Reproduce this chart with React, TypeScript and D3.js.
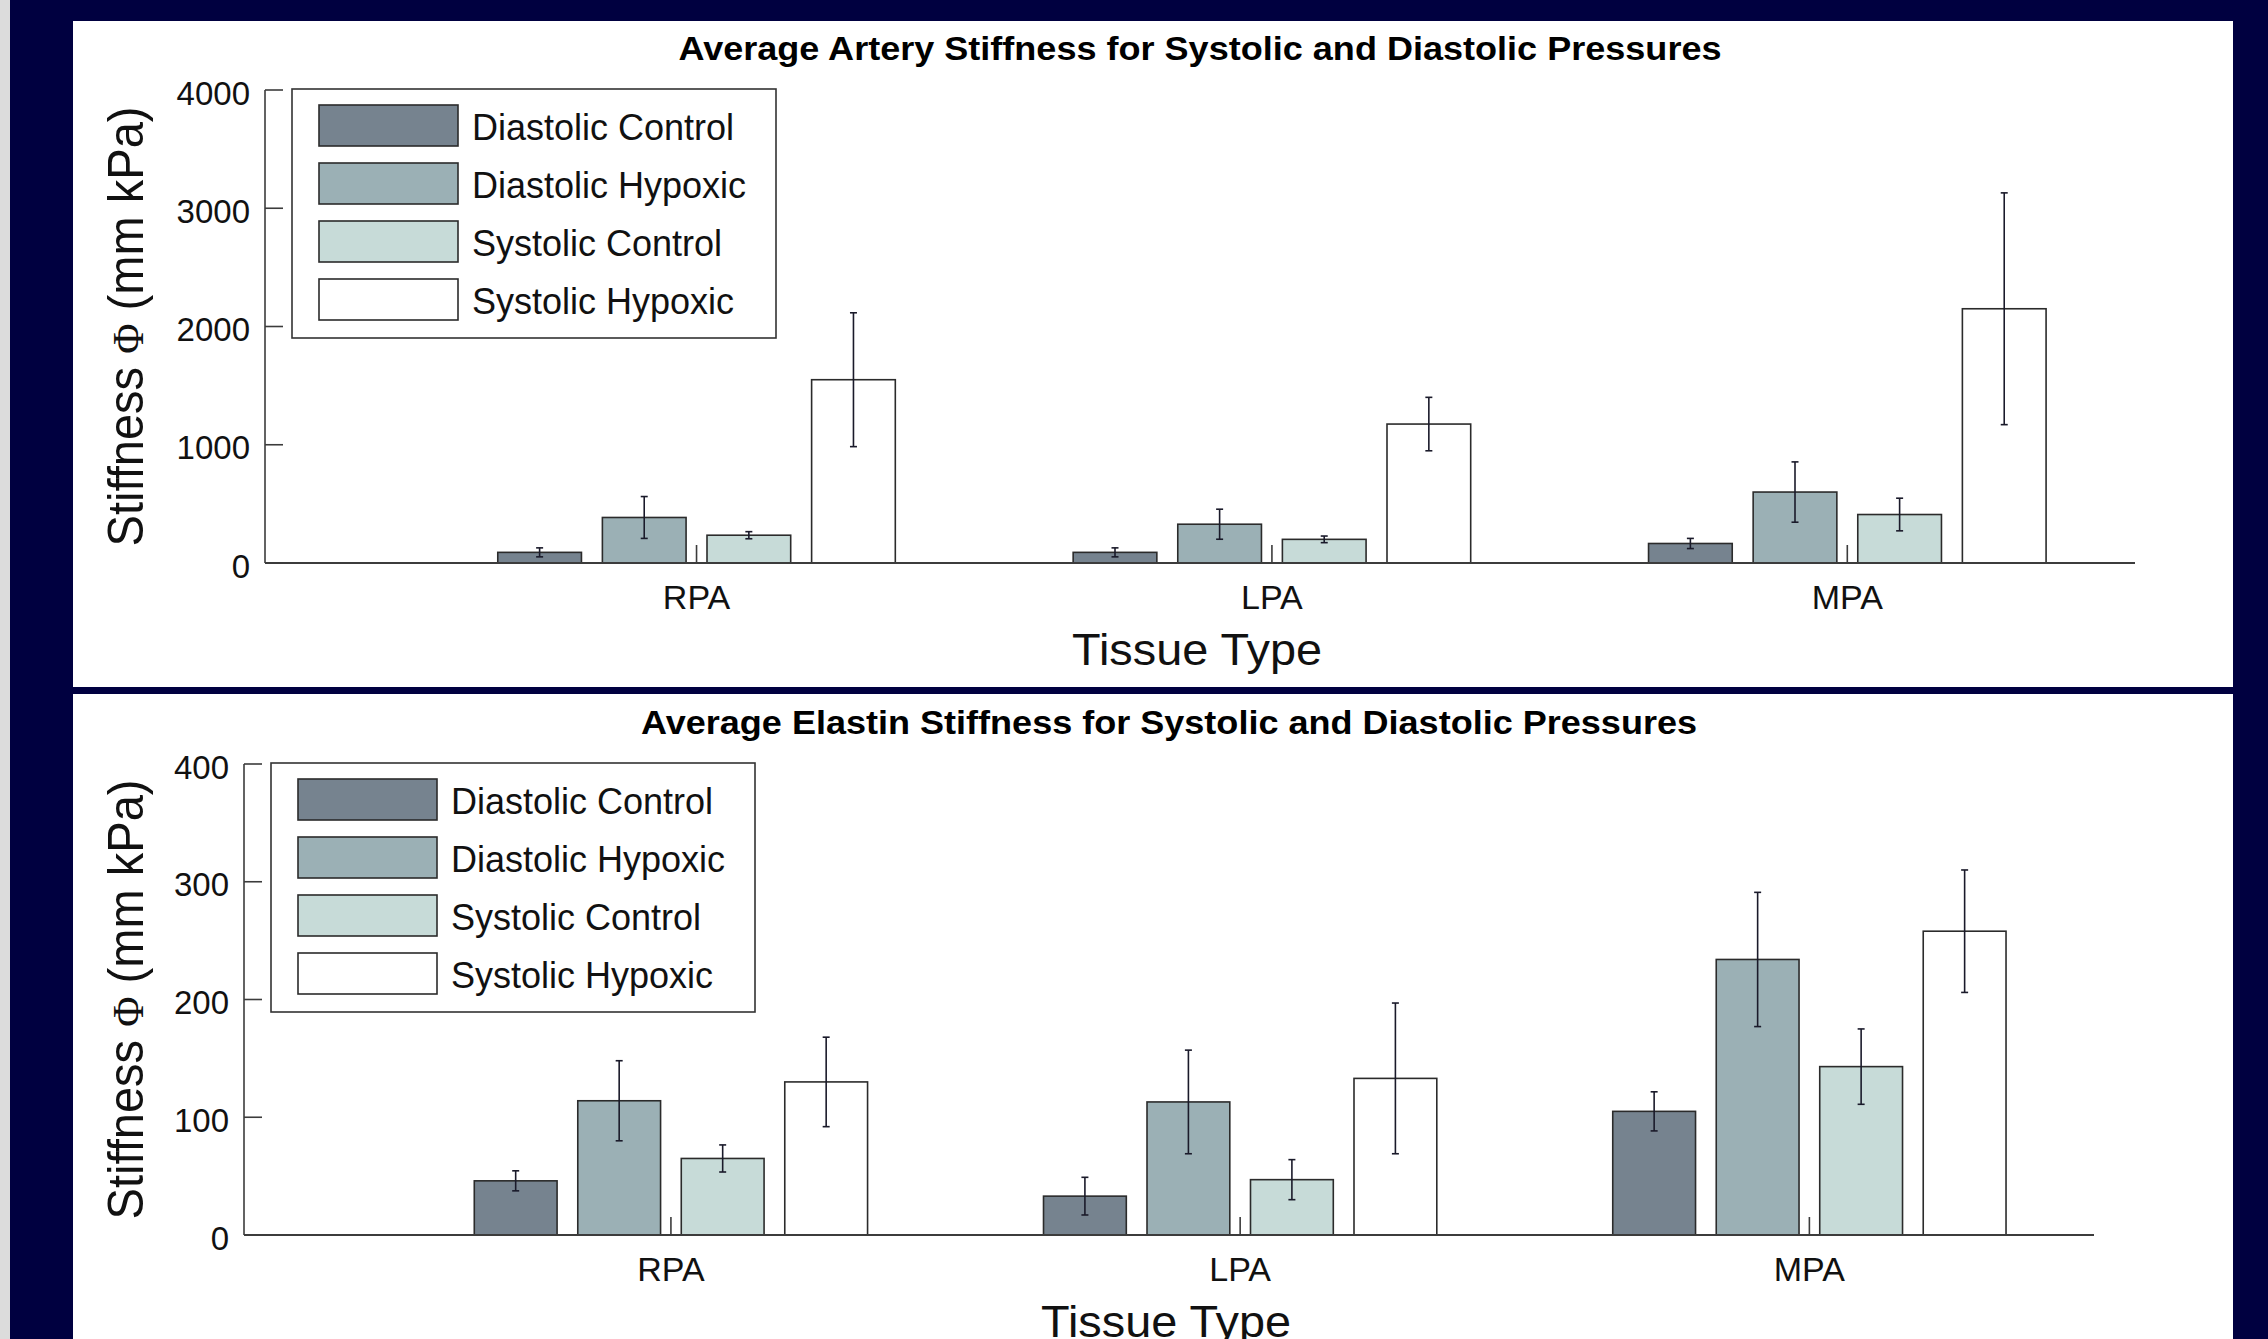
import React from "react";
import * as d3 from "d3";

// tissue groups on the x axis
const categories = ["RPA", "LPA", "MPA"];
const seriesNames = ["Diastolic Control", "Diastolic Hypoxic", "Systolic Control", "Systolic Hypoxic"];
const seriesColors = ["#76838f", "#9bb0b5", "#c7dbd8", "#ffffff"];

// artery stiffness, one array per series (RPA, LPA, MPA)
const arteryDiaControl = [90, 90, 165];
const arteryDiaHypoxic = [385, 328, 600];
const arterySysControl = [235, 200, 410];
const arterySysHypoxic = [1550, 1175, 2150];
const arteryDiaControlErr = [38, 38, 43];
const arteryDiaHypoxicErr = [177, 127, 255];
const arterySysControlErr = [30, 28, 138];
const arterySysHypoxicErr = [566, 226, 980];
const arteryTicks = [0, 1000, 2000, 3000, 4000];

// elastin stiffness
const elastinDiaControl = [46, 33, 105];
const elastinDiaHypoxic = [114, 113, 234];
const elastinSysControl = [65, 47, 143];
const elastinSysHypoxic = [130, 133, 258];
const elastinDiaControlErr = [8.5, 16, 16.6];
const elastinDiaHypoxicErr = [34, 44, 57];
const elastinSysControlErr = [11.5, 17, 32];
const elastinSysHypoxicErr = [38, 64, 52];
const elastinTicks = [0, 100, 200, 300, 400];

const FONT = "'Liberation Sans', Arial, Helvetica, sans-serif";
const AXIS = "#3c3c3c";

const BarPanel = ({ title, titleLen, means, errs, ticks, left, right, top, bottom }) => {
  const x = d3.scaleLinear().domain([0.25, 3.5]).range([left, right]);
  const y = d3.scaleLinear().domain([0, ticks[ticks.length - 1]]).range([bottom, top]);

  // matlab-style grouped bar offsets
  const nb = seriesNames.length;
  const groupW = Math.min(0.8, nb / (nb + 1.5));
  const slot = groupW / nb;
  const barW = slot * 0.8;
  const off = (i) => -groupW / 2 + slot * (i + 0.5);

  const cx = (left + right) / 2;
  const cy = (top + bottom) / 2;
  const legX = left + 27;
  const legY = top - 1;

  return (
    <g>
      <text x={cx} y={top - 30} textAnchor="middle" fontFamily={FONT} fontWeight="bold"
        fontSize={33} textLength={titleLen} lengthAdjust="spacingAndGlyphs">{title}</text>

      {/* bars */}
      {categories.map((c, ci) =>
        means.map((s, si) => {
          const bx = x(ci + 1 + off(si) - barW / 2);
          const bw = x(barW) - x(0);
          return (
            <rect key={c + si} x={bx} y={y(s[ci])} width={bw} height={y(0) - y(s[ci])}
              fill={seriesColors[si]} stroke="#2b2b2b" strokeWidth={1.6} />
          );
        })
      )}

      {/* error bars */}
      {categories.map((c, ci) =>
        means.map((s, si) => {
          const ex = x(ci + 1 + off(si));
          const lo = y(s[ci] - errs[si][ci]);
          const hi = y(s[ci] + errs[si][ci]);
          return (
            <g key={"e" + c + si} stroke="#1a1a2a" strokeWidth={1.6}>
              <line x1={ex} x2={ex} y1={lo} y2={hi} />
              <line x1={ex - 3.5} x2={ex + 3.5} y1={lo} y2={lo} />
              <line x1={ex - 3.5} x2={ex + 3.5} y1={hi} y2={hi} />
            </g>
          );
        })
      )}

      {/* axes */}
      <line x1={left} x2={right} y1={y(0)} y2={y(0)} stroke={AXIS} strokeWidth={2} />
      <line x1={left} x2={left} y1={y(0)} y2={top} stroke={AXIS} strokeWidth={1.6} />
      {ticks.map((t) => (
        <g key={"t" + t}>
          <line x1={left} x2={left + 18} y1={y(t)} y2={y(t)} stroke={AXIS} strokeWidth={1.6} />
          <text x={left - 15} y={y(t) + 3} dy="0.35em" textAnchor="end" fontFamily={FONT}
            fontSize={33} fill="#111">{t}</text>
        </g>
      ))}
      {categories.map((c, ci) => (
        <g key={"c" + c}>
          <line x1={x(ci + 1)} x2={x(ci + 1)} y1={y(0)} y2={y(0) - 18} stroke={AXIS} strokeWidth={1.6} />
          <text x={x(ci + 1)} y={y(0) + 46} textAnchor="middle" fontFamily={FONT} fontSize={34}
            fill="#111">{c}</text>
        </g>
      ))}

      <text x={cx - 3} y={y(0) + 102} textAnchor="middle" fontFamily={FONT} fontSize={44}
        textLength={250} lengthAdjust="spacingAndGlyphs" fill="#111">Tissue Type</text>
      <text transform={`translate(143,${cy}) rotate(-90)`} textAnchor="middle" fontFamily={FONT}
        fontSize={50} textLength={440} lengthAdjust="spacingAndGlyphs" fill="#111">
        Stiffness <tspan fontFamily="'Liberation Serif', 'DejaVu Serif', serif" fontSize={44}>Φ</tspan> (mm kPa)
      </text>

      {/* legend */}
      <rect x={legX} y={legY} width={484} height={249} fill="#fff" stroke="#333" strokeWidth={1.6} />
      {seriesNames.map((n, i) => (
        <g key={n}>
          <rect x={legX + 27} y={legY + 16 + i * 58} width={139} height={41} fill={seriesColors[i]}
            stroke="#2b2b2b" strokeWidth={1.6} />
          <text x={legX + 180} y={legY + 16 + i * 58 + 35} fontFamily={FONT} fontSize={36}
            fill="#111">{n}</text>
        </g>
      ))}
    </g>
  );
};

export default function App() {
  const arteryMeans = [arteryDiaControl, arteryDiaHypoxic, arterySysControl, arterySysHypoxic];
  const arteryErrs = [arteryDiaControlErr, arteryDiaHypoxicErr, arterySysControlErr, arterySysHypoxicErr];
  const elastinMeans = [elastinDiaControl, elastinDiaHypoxic, elastinSysControl, elastinSysHypoxic];
  const elastinErrs = [elastinDiaControlErr, elastinDiaHypoxicErr, elastinSysControlErr, elastinSysHypoxicErr];

  return (
    <>
      <style>{"body{margin:0;overflow:hidden}"}</style>
      <svg width={2268} height={1339} style={{ display: "block" }}>
        <rect x={0} y={0} width={2268} height={1339} fill="#000040" />
        <rect x={0} y={0} width={10} height={1339} fill="#dcdcdc" />
        <rect x={73} y={21} width={2160} height={666} fill="#fff" />
        <rect x={73} y={694} width={2160} height={645} fill="#fff" />

        <BarPanel title="Average Artery Stiffness for Systolic and Diastolic Pressures" titleLen={1043}
          means={arteryMeans} errs={arteryErrs} ticks={arteryTicks}
          left={265} right={2135} top={90} bottom={563} />
        <BarPanel title="Average Elastin Stiffness for Systolic and Diastolic Pressures" titleLen={1056}
          means={elastinMeans} errs={elastinErrs} ticks={elastinTicks}
          left={244} right={2094} top={764} bottom={1235} />
      </svg>
    </>
  );
}
